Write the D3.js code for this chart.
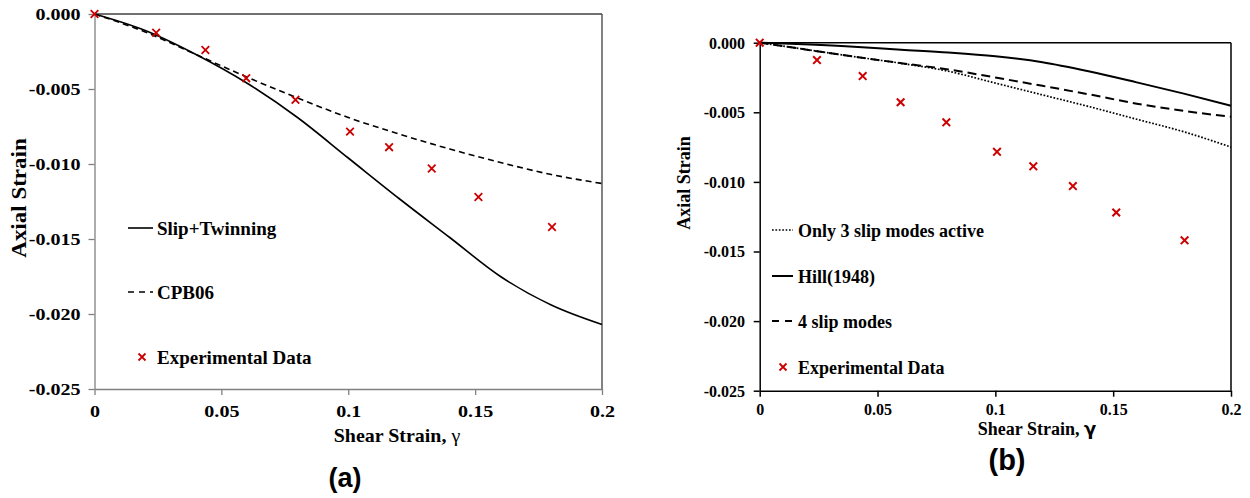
<!DOCTYPE html>
<html><head><meta charset="utf-8">
<script src="https://cdn.jsdelivr.net/npm/d3@7"></script>
<style>html,body{margin:0;padding:0;background:#fff;}svg{display:block;}</style>
</head><body>
<svg id="c" width="1250" height="498"></svg>
<script>
// ---------- data ----------
const xTickValues = [0, 0.05, 0.1, 0.15, 0.2];
const xTickLabels = ["0", "0.05", "0.1", "0.15", "0.2"];
const yTickValues = [0, -0.005, -0.01, -0.015, -0.02, -0.025];
const yTickLabels = ["0.000", "-0.005", "-0.010", "-0.015", "-0.020", "-0.025"];

const expX = [0, 0.0243, 0.0437, 0.0598, 0.0792, 0.1007, 0.1161, 0.1329, 0.1513, 0.1803];
const expY = [0, -0.00125, -0.0024, -0.00428, -0.00572, -0.00784, -0.00888, -0.0103, -0.0122, -0.0142];

// panel (a)
const slipTwinX = [0, 0.02, 0.04, 0.06, 0.08, 0.1, 0.12, 0.14, 0.16, 0.18, 0.2];
const slipTwinY = [0, -0.0011, -0.0027, -0.0046, -0.0069, -0.0096, -0.0123, -0.0149, -0.0175, -0.0194, -0.0207];
const cpb06X = [0, 0.02, 0.04, 0.06, 0.08, 0.1, 0.12, 0.14, 0.16, 0.18, 0.2];
const cpb06Y = [0, -0.0012, -0.0027, -0.0042, -0.0056, -0.0069, -0.008, -0.009, -0.0099, -0.0107, -0.0113];

// panel (b)
const hillX = [0, 0.04, 0.06, 0.08, 0.1, 0.12, 0.14, 0.16, 0.18, 0.2];
const hillY = [0, -0.00029, -0.0005, -0.0007, -0.00097, -0.0014, -0.00207, -0.00285, -0.00366, -0.00453];
const slip4X = [0, 0.02, 0.04, 0.06, 0.08, 0.1, 0.12, 0.14, 0.16, 0.18, 0.2];
const slip4Y = [0, -0.0005, -0.001, -0.00147, -0.00192, -0.0025, -0.0031, -0.00372, -0.00438, -0.0049, -0.00532];
const slip3X = [0, 0.02, 0.04, 0.06, 0.08, 0.1, 0.12, 0.14, 0.16, 0.18, 0.2];
const slip3Y = [0, -0.0005, -0.001, -0.00148, -0.00205, -0.0029, -0.00375, -0.0046, -0.0055, -0.0064, -0.0075];

const legendA = ["Slip+Twinning", "CPB06", "Experimental Data"];
const legendB = ["Only 3 slip modes active", "Hill(1948)", "4 slip modes", "Experimental Data"];

// ---------- drawing ----------
const svg = d3.select("#c");
const SERIF = "'Liberation Serif','Times New Roman',serif";
const RED = "#cc0000";
const zip = (xs, ys) => xs.map((x, i) => [x, ys[i]]);

function cross(g, cx, cy, s, w) {
  g.append("path")
    .attr("d", `M${cx - s},${cy - s}L${cx + s},${cy + s}M${cx - s},${cy + s}L${cx + s},${cy - s}`)
    .attr("stroke", RED).attr("stroke-width", w).attr("fill", "none");
}

function panel(cfg) {
  const g = svg.append("g");
  const x = d3.scaleLinear().domain([0, 0.2]).range([cfg.x0, cfg.x1]);
  const y = d3.scaleLinear().domain([0, -0.025]).range([cfg.y0, cfg.y1]);

  // frame
  g.append("line").attr("x1", cfg.x0).attr("x2", cfg.x1).attr("y1", cfg.y0).attr("y2", cfg.y0)
    .attr("stroke", cfg.frameColor).attr("stroke-width", cfg.frameW);
  g.append("line").attr("x1", cfg.x1).attr("x2", cfg.x1).attr("y1", cfg.y0).attr("y2", cfg.y1)
    .attr("stroke", cfg.frameColor).attr("stroke-width", cfg.frameW);

  // axes
  const ax = g.append("g").attr("transform", `translate(0,${cfg.y1})`)
    .call(d3.axisBottom(x).tickValues(xTickValues).tickFormat((d, i) => xTickLabels[i]).tickSize(6).tickSizeOuter(0));
  const ay = g.append("g").attr("transform", `translate(${cfg.x0},0)`)
    .call(d3.axisLeft(y).tickValues(yTickValues).tickFormat((d, i) => yTickLabels[i]).tickSize(6).tickSizeOuter(0));
  [ax, ay].forEach(a => {
    a.select(".domain").attr("stroke", cfg.axisColor).attr("stroke-width", cfg.axisW);
    a.selectAll(".tick line").attr("stroke", cfg.axisColor).attr("stroke-width", cfg.axisW);
    a.selectAll("text").attr("font-family", SERIF).attr("font-weight", "bold")
      .attr("font-size", cfg.tickFont).attr("fill", "#000");
  });
  ax.selectAll("text").attr("y", cfg.xLabOff).attr("dy", 0)
    .attr("transform", `scale(${cfg.tickSx},1)`);
  ay.selectAll("text").attr("x", -cfg.yLabOff / cfg.tickSx).attr("dy", "0.34em")
    .attr("transform", `scale(${cfg.tickSx},1)`);

  // curves
  const line = d3.line().x(d => x(d[0])).y(d => y(d[1])).curve(d3.curveMonotoneX);
  cfg.series.forEach(s => {
    g.append("path").attr("d", line(zip(s.xs, s.ys))).attr("fill", "none")
      .attr("stroke", "#000").attr("stroke-width", s.w)
      .attr("stroke-dasharray", s.dash || null);
  });
  // experimental points
  expX.forEach((vx, i) => cross(g, x(vx), y(expY[i]), cfg.mk, cfg.mkW));

  // legend
  cfg.legend.forEach(L => {
    if (L.type === "cross") cross(g, L.lx + 10, L.ly, 3.5, 1.8);
    else g.append("line").attr("x1", L.lx).attr("x2", L.lx + cfg.legLen).attr("y1", L.ly).attr("y2", L.ly)
      .attr("stroke", "#000").attr("stroke-width", L.w).attr("stroke-dasharray", L.dash || null);
    g.append("text").attr("transform", `translate(${cfg.legTextX},${L.ly + cfg.legBase}) scale(${cfg.legSx},1)`)
      .attr("font-family", SERIF).attr("font-weight", "bold").attr("font-size", cfg.legFont)
      .attr("fill", "#000").text(L.label);
  });

  // axis titles
  const xt = g.append("text").attr("transform", `translate(${cfg.xTitle[0]},${cfg.xTitle[1]}) scale(${cfg.titleSx},1)`)
    .attr("text-anchor", "middle").attr("font-family", SERIF).attr("font-weight", "bold")
    .attr("font-size", cfg.titleFont).attr("fill", "#000");
  xt.append("tspan").text("Shear Strain, ");
  xt.append("tspan").text("γ").attr("font-weight", cfg.gammaWeight).attr("font-family", cfg.gammaFamily);
  g.append("text").attr("transform", `translate(${cfg.yTitle[0]},${cfg.yTitle[1]}) rotate(-90) scale(${cfg.yTitleSx},1)`)
    .attr("text-anchor", "middle").attr("font-family", SERIF).attr("font-weight", "bold")
    .attr("font-size", cfg.yTitleFont).attr("fill", "#000").text("Axial Strain");

  // panel tag
  g.append("text").attr("x", cfg.tag[0]).attr("y", cfg.tag[1]).attr("text-anchor", "middle")
    .attr("font-family", "'Liberation Sans',Arial,sans-serif").attr("font-weight", "bold")
    .attr("font-size", cfg.tagFont).attr("fill", "#000").text(cfg.tagText);
}

panel({
  x0: 94.5, x1: 602, y0: 14, y1: 389,
  frameColor: "#404040", frameW: 1.3, axisColor: "#808080", axisW: 1.3,
  tickFont: 17, tickSx: 1.18, xLabOff: 28, yLabOff: 14,
  series: [
    { xs: slipTwinX, ys: slipTwinY, w: 1.6 },
    { xs: cpb06X, ys: cpb06Y, w: 1.6, dash: "6,4" }
  ],
  mk: 3.8, mkW: 1.8,
  legLen: 25, legTextX: 157, legBase: 6.5, legFont: 19, legSx: 1.0,
  legend: [
    { label: legendA[0], lx: 128, ly: 228, w: 1.6 },
    { label: legendA[1], lx: 128, ly: 292, w: 1.6, dash: "6,5" },
    { label: legendA[2], lx: 132, ly: 357, type: "cross" }
  ],
  titleFont: 19, titleSx: 1.05, yTitleFont: 20, yTitleSx: 1.15,
  gammaWeight: "normal", gammaFamily: SERIF,
  xTitle: [397, 442], yTitle: [26, 198],
  tag: [345, 487], tagFont: 27, tagText: "(a)"
});

panel({
  x0: 759.7, x1: 1231, y0: 42.7, y1: 390.7,
  frameColor: "#000", frameW: 1.5, axisColor: "#000", axisW: 1.5,
  tickFont: 16, tickSx: 1.0, xLabOff: 24.5, yLabOff: 14.7,
  series: [
    { xs: hillX, ys: hillY, w: 2 },
    { xs: slip4X, ys: slip4Y, w: 2, dash: "9,5" },
    { xs: slip3X, ys: slip3Y, w: 1.7, dash: "1.7,1.7" }
  ],
  mk: 3.8, mkW: 2,
  legLen: 21, legTextX: 798, legBase: 6.5, legFont: 18, legSx: 1.0,
  legend: [
    { label: legendB[0], lx: 772, ly: 230, w: 1.7, dash: "1.7,1.7" },
    { label: legendB[1], lx: 772, ly: 276, w: 2 },
    { label: legendB[2], lx: 772, ly: 321, w: 2, dash: "7,6" },
    { label: legendB[3], lx: 773, ly: 367, type: "cross" }
  ],
  titleFont: 18, titleSx: 1.0, yTitleFont: 18, yTitleSx: 1.0,
  gammaWeight: "bold", gammaFamily: "'DejaVu Sans',sans-serif",
  xTitle: [1037, 435], yTitle: [690, 183],
  tag: [1007, 470], tagFont: 29, tagText: "(b)"
});
</script>
</body></html>
